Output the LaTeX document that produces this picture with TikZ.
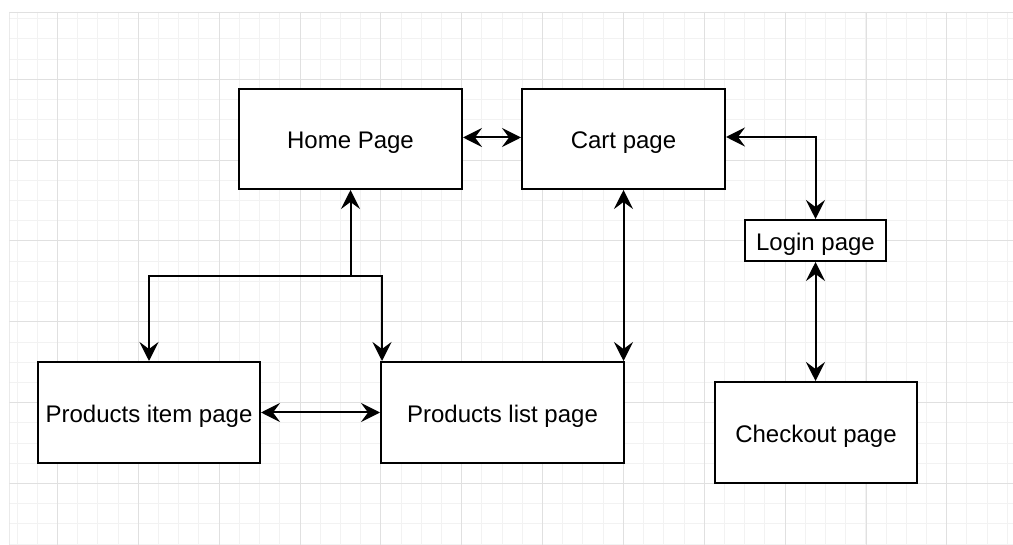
\documentclass[tikz,border=0pt]{standalone}
\usepackage{fontspec}
\setmainfont{Liberation Sans}
\usetikzlibrary{arrows.meta}
\definecolor{gridminor}{HTML}{F2F2F2}
\definecolor{gridmajor}{HTML}{E0E0E0}
\tikzset{
  pagebox/.style={draw=black, line width=2pt, fill=white, inner sep=0pt,
    text height=20pt, text depth=0pt, font=\fontsize{24}{28}\selectfont, text=black},
  tip/.tip={Stealth[length=19pt, width=19pt, inset=7pt]},
  link/.style={line width=2pt, draw=black, arrows={-tip}},
  biway/.style={line width=2pt, draw=black, arrows={tip-tip}},
}
\begin{document}
\begin{tikzpicture}[x=1pt,y=-1pt]
\useasboundingbox (0,0) rectangle (1013,545);
\fill[white] (0,0) rectangle (1013,545);
% grid
\begin{scope}
\clip (9.3,12) rectangle (1013,545);
\foreach \i in {0,...,49} {
  \draw[gridminor, line width=1pt] ({17.08+20.21*\i},12) -- ({17.08+20.21*\i},545);
}
\foreach \j in {0,...,26} {
  \draw[gridminor, line width=1pt] (9.3,{18.67+20.21*\j}) -- (1013,{18.67+20.21*\j});
}
\foreach \k in {0,...,11} {
  \draw[gridmajor, line width=1pt] ({57.5+80.85*\k},12) -- ({57.5+80.85*\k},545);
}
\foreach \k in {0,...,5} {
  \draw[gridmajor, line width=1pt] (9.3,{79.3+80.85*\k}) -- (1013,{79.3+80.85*\k});
}
\draw[gridmajor, line width=1pt] (9.8,12) -- (9.8,545);
\draw[gridmajor, line width=1pt] (9.3,12.5) -- (1013,12.5);
\end{scope}
% nodes
\node[pagebox, minimum width=223pt, minimum height=100pt] (home) at (350.5,139) {Home Page};
\node[pagebox, minimum width=203pt, minimum height=100pt] (cart) at (623.5,139) {Cart page};
\node[pagebox, minimum width=141pt, minimum height=41pt] (login) at (815.5,240.5) {Login page};
\node[pagebox, minimum width=202pt, minimum height=101pt] (checkout) at (816,432.5) {Checkout page};
\node[pagebox, minimum width=222pt, minimum height=101pt] (item) at (149,412.5) {Products item page};
\node[pagebox, minimum width=243pt, minimum height=101pt] (list) at (502.5,412.5) {Products list page};
% connectors
\draw[biway] ([yshift=1.5pt]home.east) -- ([yshift=1.5pt]cart.west);
\coordinate (j) at (350.5,276);
\draw[link] (j) -- (home.south);
\draw[link] (j) -| (item.north);
\draw[link] (j) -| ([xshift=2pt]list.north west);
\draw[biway] (cart.south) -- (cart.south |- list.north);
\draw[biway] (item.east) -- (list.west);
\draw[biway] ([yshift=2pt]cart.east) -| (login.north);
\draw[biway] (login.south) -- (login.south |- checkout.north);
\end{tikzpicture}
\end{document}
